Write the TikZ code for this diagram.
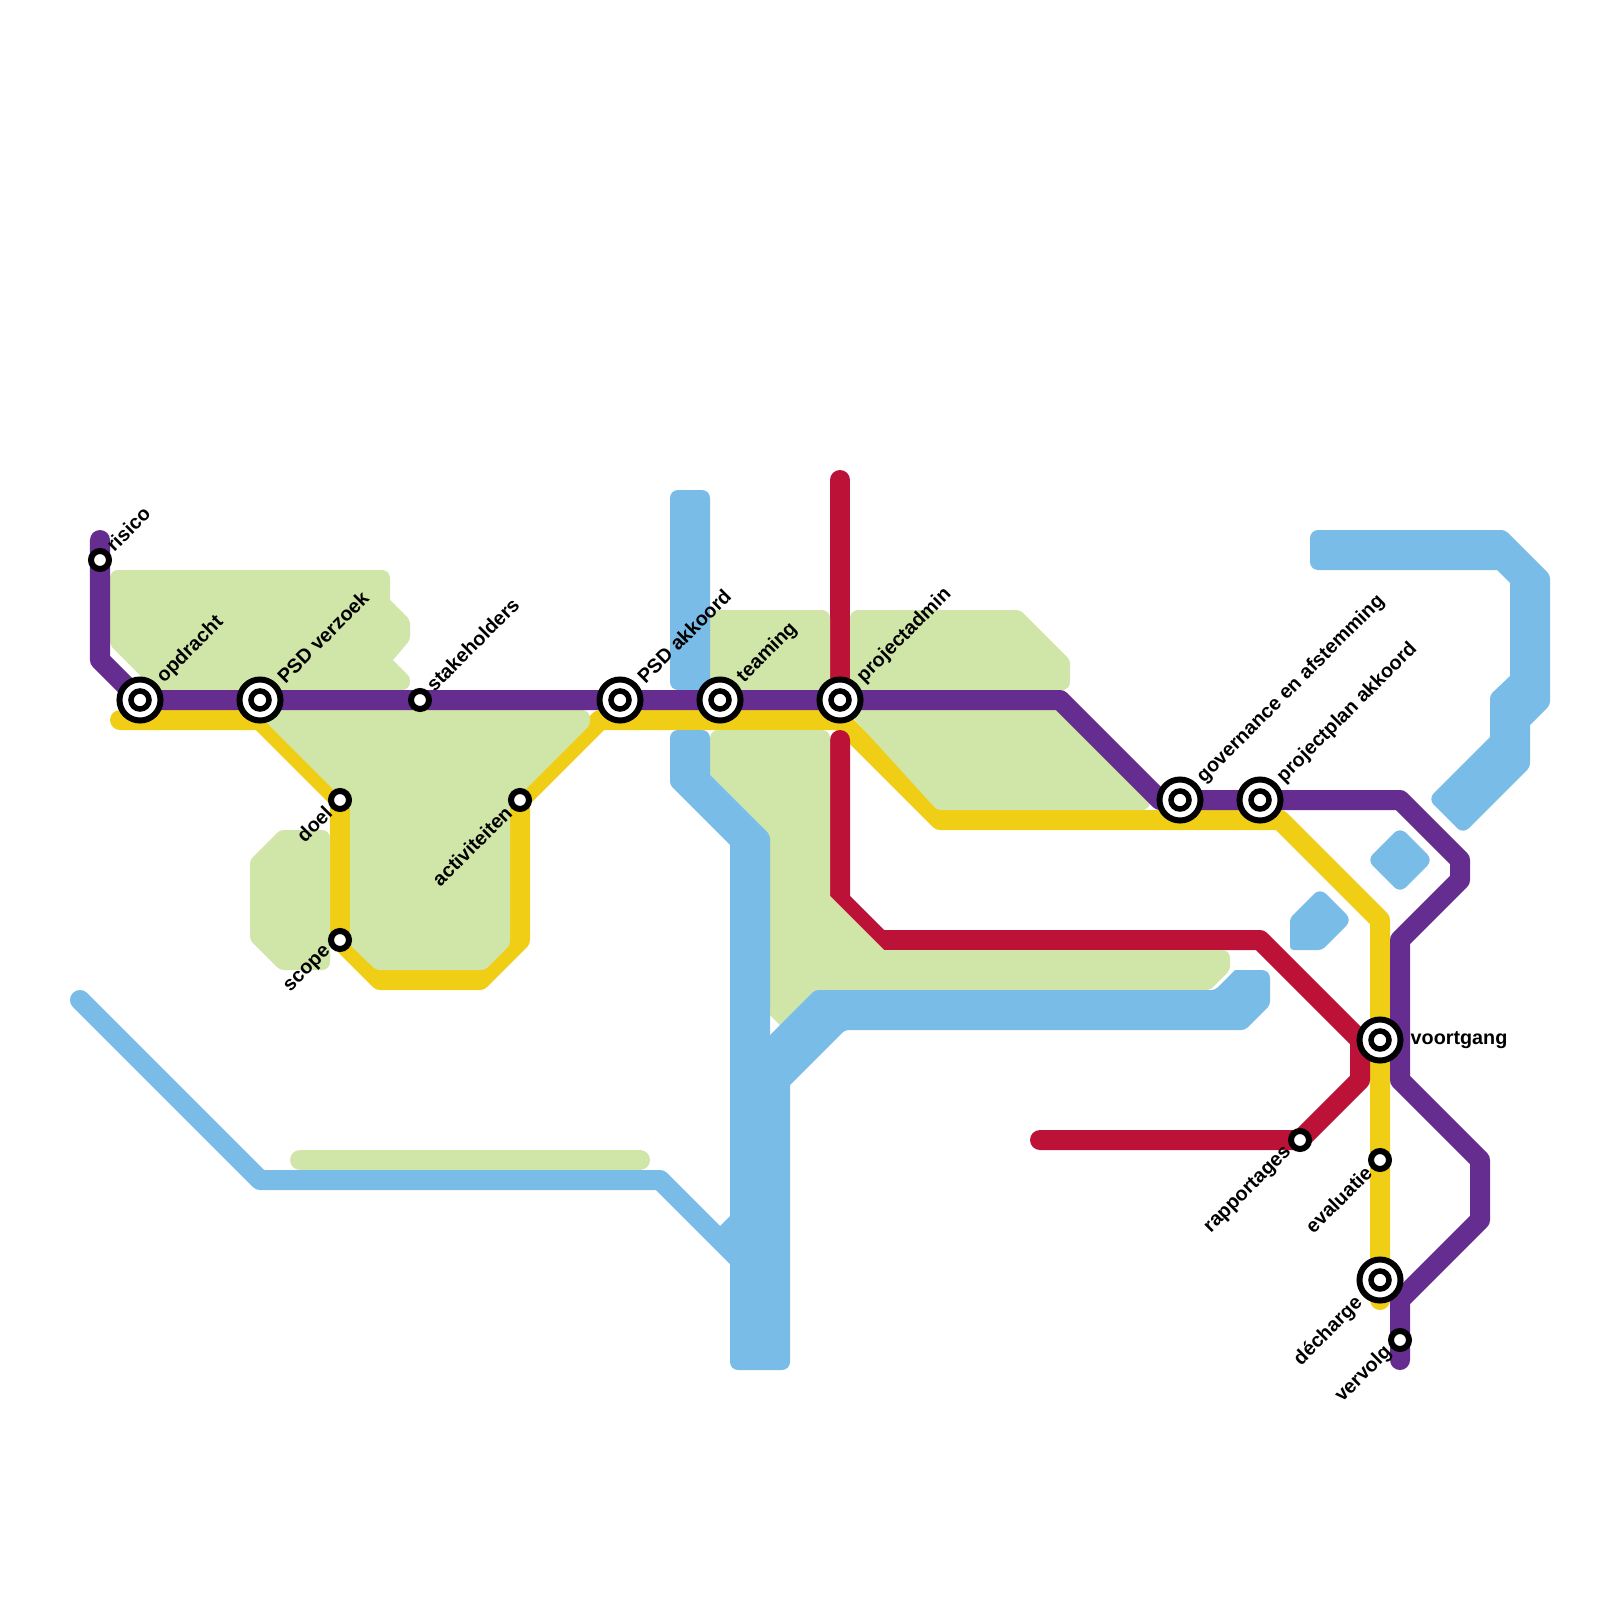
\documentclass[tikz,border=0pt]{standalone}
\usepackage{fontspec}
\setmainfont{Liberation Sans}
\usetikzlibrary{backgrounds}
\definecolor{linepurple}{HTML}{652D90}
\definecolor{lineyellow}{HTML}{F0CE15}
\definecolor{linered}{HTML}{BC1238}
\definecolor{areagreen}{HTML}{D0E5A8}
\definecolor{areablue}{HTML}{7ABCE8}
\begin{document}
\begin{tikzpicture}[
        x=0.01cm, y=-0.01cm,
        metroline/.style={line width=0.2cm, line cap=round, line join=round},
        purpleline/.style={metroline, draw=linepurple},
        yellowline/.style={metroline, draw=lineyellow},
        redline/.style={metroline, draw=linered},
        rc/.style={rounded corners=0.08cm},
        ob/.style={rounded corners=0.035cm},
        sc/.style={sharp corners},
        greenarea/.style={fill=areagreen, rc},
        bluearea/.style={fill=areablue, rc},
        smallstop/.style={circle, draw=black, fill=white, line width=0.06cm, minimum size=0.18cm, inner sep=0pt},
        bigstop/.style={circle, draw=black, fill=white, line width=0.06cm, minimum size=0.41cm, inner sep=0pt,
            path picture={\draw[line width=0.055cm] (path picture bounding box.center) circle (0.09cm);}},
        stopname/.style={font=\fontsize{5.62pt}{7pt}\selectfont\bfseries, inner sep=0pt},
        upname/.style={stopname, anchor=west, xshift=0.09cm, yshift=0.12cm, rotate=45},
        bigupname/.style={stopname, anchor=west, xshift=0.2cm, yshift=0.2cm, rotate=45},
        downname/.style={stopname, anchor=east, xshift=-0.11cm, yshift=-0.09cm, rotate=45},
        bigdownname/.style={stopname, anchor=east, xshift=-0.2cm, yshift=-0.2cm, rotate=45}
    ]
    \useasboundingbox (0,0) rectangle (1600,1600);

    % Stations
    \node[smallstop] (risico) at (100,560) {};
    \node[bigstop] (opdracht) at (140,700) {};
    \node[bigstop] (psdverzoek) at (260,700) {};
    \node[smallstop] (stakeholders) at (420,700) {};
    \node[smallstop] (doel) at (340,800) {};
    \node[smallstop] (scope) at (340,940) {};
    \node[smallstop] (activiteiten) at (520,800) {};
    \node[bigstop] (psdakkoord) at (620,700) {};
    \node[bigstop] (teaming) at (720,700) {};
    \node[bigstop] (projectadmin) at (840,700) {};
    \node[bigstop] (governance) at (1180,800) {};
    \node[bigstop] (projectplan) at (1260,800) {};
    \node[bigstop] (voortgang) at (1380,1040) {};
    \node[smallstop] (rapportages) at (1300,1140) {};
    \node[smallstop] (evaluatie) at (1380,1160) {};
    \node[bigstop] (decharge) at (1380,1280) {};
    \node[smallstop] (vervolg) at (1400,1340) {};

    % Line ends
    \coordinate (purplestart) at (100,540);
    \coordinate (purpleend) at (1400,1360);
    \coordinate (yellowstart) at (120,720);
    \coordinate (yellowend) at (1380,1300);
    \coordinate (redtop) at (840,480);
    \coordinate (redstart) at (840,740);
    \coordinate (redend) at (1040,1140);
    \coordinate (thinstart) at (80,1000);
    \coordinate (thinend) at (740,1260);
    \coordinate (barstart) at (300,1160);
    \coordinate (barend) at (640,1160);

    % Station names
    \node[upname] (nrisico) at (risico) {risico};
    \node[bigupname] (nopdracht) at (opdracht) {opdracht};
    \node[bigupname] (npsdverzoek) at (psdverzoek) {PSD verzoek};
    \node[upname] (nstakeholders) at (stakeholders) {stakeholders};
    \node[downname] (ndoel) at (doel) {doel};
    \node[downname] (nscope) at (scope) {scope};
    \node[downname] (nactiviteiten) at (activiteiten) {activiteiten};
    \node[bigupname] (npsdakkoord) at (psdakkoord) {PSD akkoord};
    \node[bigupname] (nteaming) at (teaming) {teaming};
    \node[bigupname] (nprojectadmin) at (projectadmin) {projectadmin};
    \node[bigupname] (ngovernance) at (governance) {governance en afstemming};
    \node[bigupname] (nprojectplan) at (projectplan) {projectplan akkoord};
    \node[stopname, anchor=west, xshift=0.3cm] (nvoortgang) at (voortgang) {voortgang};
    \node[downname] (nrapportages) at (rapportages) {rapportages};
    \node[downname] (nevaluatie) at (evaluatie) {evaluatie};
    \node[bigdownname] (ndecharge) at (decharge) {décharge};
    \node[downname] (nvervolg) at (vervolg) {vervolg};

    \begin{scope}[on background layer]
    % Lines under the green areas
    \draw[yellowline] (yellowstart) -- (260,720) -- (doel.center) -- (scope.center) -- (380,980) -- (480,980) -- (520,940) -- (activiteiten.center) -- (600,720) -- (840,720) -- (940,820) -- (1280,820) -- (1380,920) -- (voortgang.center) -- (evaluatie.center) -- (decharge.center) -- (yellowend);
    \draw[redline] (redtop) -- (projectadmin.center);
    \draw[redline] (redstart) -- (840,900) -- (880,940) -- (1260,940) -- (1360,1040) -- (1360,1080) -- (rapportages.center) -- (redend);

    % Green areas
    \fill[greenarea] (110,570) -- (390,570) [sc] -- (390,600) [ob] -- (410,620) -- (410,640) [sc] -- (393,660) [ob] -- (410,677) [rc] -- (410,690) -- (155,690) [ob] -- (110,645) [rc] -- cycle;
    \fill[greenarea] (254,710) -- (590,710) [ob] -- (590,725) -- (510,805) -- (510,945) -- (485,970) -- (376,970) -- (350,945) -- (350,806) -- cycle;
    \fill[greenarea] (250,860) [ob] -- (280,830) [rc] -- (330,830) -- (330,970) [ob] -- (280,970) -- (250,940) -- cycle;
    \fill[greenarea] (710,610) -- (830,610) -- (830,690) -- (710,690) -- cycle;
    \fill[greenarea] (850,610) [ob] -- (1020,610) -- (1070,660) [rc] -- (1070,690) -- (850,690) -- cycle;
    \fill[greenarea] (837,700) -- (1060,700) [sc] -- (1150,790) [rc] -- (1150,810) [ob] -- (937,810) -- cycle;
    \fill[greenarea] (710,730) -- (830,730) [sc] -- (830,896) -- (884,950) [rc] -- (1230,950) [ob] -- (1230,970) -- (1210,990) -- (830,1000) [sc] -- (795,1040) -- (760,1005) -- (760,825) -- (710,775) [rc] -- cycle;
    \draw[metroline, draw=areagreen] (barstart) -- (barend);

    % Blue areas
    \fill[bluearea] (670,490) -- (710,490) -- (710,690) -- (670,690) -- cycle;
    \fill[bluearea] (670,730) -- (710,730) [sc] -- (710,775) [ob] -- (770,835) -- (770,1100) -- (730,1100) [sc] -- (730,845) [ob] -- (670,785) [rc] -- cycle;
    \fill[bluearea] (730,1060) -- (790,1060) [rc] -- (790,1370) -- (730,1370) [sc] -- (730,1250) -- (720,1226) -- (730,1216) -- cycle;
    \fill[bluearea] (755,1050) [ob] -- (815,990) -- (1215,990) [sc] -- (1235,970) [rc] -- (1270,970) [ob] -- (1270,1005) -- (1245,1030) -- (845,1030) [sc] -- (765,1110) -- cycle;
    \draw[metroline, draw=areablue] (thinstart) -- (260,1180) -- (660,1180) -- (thinend);
    \fill[bluearea] (1310,530) [ob] -- (1505,530) -- (1550,575) -- (1550,705) [sc] -- (1530,725) [ob] -- (1530,767) [rc] -- (1463,834) -- (1428,799) [sc] -- (1490,737) [ob] -- (1490,695) [sc] -- (1510,676) -- (1510,583) -- (1497,570) [rc] -- (1310,570) -- cycle;
    \fill[bluearea] (1400,827) -- (1433,860) -- (1400,893) -- (1367,860) -- cycle;
    \fill[bluearea] (1290,918) -- (1320,888) -- (1352,920) [ob] -- (1322,950) -- (1290,950) -- cycle;

    % Purple line on top
    \draw[purpleline] (purplestart) -- (risico.center) -- (100,660) -- (opdracht.center) -- (psdverzoek.center) -- (stakeholders.center) -- (psdakkoord.center) -- (teaming.center) -- (projectadmin.center) -- (1060,700) -- (1160,800) -- (governance.center) -- (projectplan.center) -- (1400,800) -- (1460,860) -- (1460,880) -- (1400,940) -- (1400,1080) -- (1480,1160) -- (1480,1220) -- (1400,1300) -- (vervolg.center) -- (purpleend);
    \end{scope}
\end{tikzpicture}
\end{document}
